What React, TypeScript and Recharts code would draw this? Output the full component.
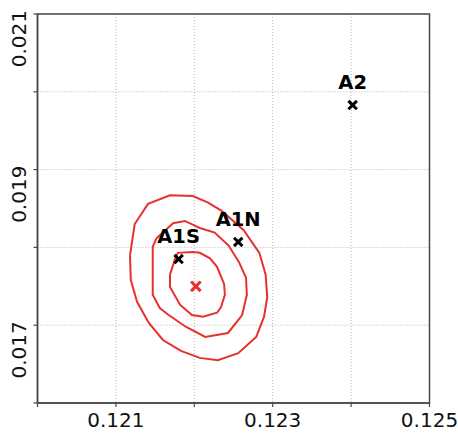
import React from 'react';
import {
  ScatterChart,
  Scatter,
  XAxis,
  YAxis,
  CartesianGrid,
  ReferenceArea,
} from 'recharts';

// Axis ranges and ticks
const xDomain: [number, number] = [0.12, 0.125];
const yDomain: [number, number] = [0.016, 0.021];
const xTicks = [0.12, 0.121, 0.122, 0.123, 0.124, 0.125];
const yTicks = [0.016, 0.017, 0.018, 0.019, 0.02, 0.021];
const xLabelled = [0.121, 0.123, 0.125];
const yLabelled = [0.017, 0.019, 0.021];

// Confidence contours (closed polylines)
const outerContour = [
  { x: 0.12118, y: 0.0179 },
  { x: 0.12119, y: 0.01758 },
  { x: 0.12127, y: 0.0173 },
  { x: 0.12142, y: 0.01703 },
  { x: 0.1216, y: 0.01681 },
  { x: 0.12183, y: 0.01667 },
  { x: 0.12207, y: 0.01658 },
  { x: 0.1223, y: 0.01655 },
  { x: 0.12256, y: 0.01664 },
  { x: 0.12279, y: 0.01685 },
  { x: 0.12289, y: 0.01711 },
  { x: 0.12293, y: 0.01736 },
  { x: 0.12291, y: 0.01765 },
  { x: 0.12283, y: 0.01793 },
  { x: 0.12263, y: 0.01822 },
  { x: 0.12235, y: 0.01847 },
  { x: 0.12217, y: 0.01858 },
  { x: 0.12198, y: 0.01866 },
  { x: 0.12169, y: 0.01867 },
  { x: 0.12141, y: 0.01856 },
  { x: 0.12124, y: 0.0183 },
  { x: 0.12118, y: 0.0179 },
];

const middleContour = [
  { x: 0.12147, y: 0.01781 },
  { x: 0.12147, y: 0.01758 },
  { x: 0.12147, y: 0.01739 },
  { x: 0.12156, y: 0.01722 },
  { x: 0.12166, y: 0.01714 },
  { x: 0.12189, y: 0.01698 },
  { x: 0.12214, y: 0.01685 },
  { x: 0.12243, y: 0.0169 },
  { x: 0.12261, y: 0.01713 },
  { x: 0.12267, y: 0.01739 },
  { x: 0.12266, y: 0.01761 },
  { x: 0.12257, y: 0.01781 },
  { x: 0.12244, y: 0.01802 },
  { x: 0.12226, y: 0.01819 },
  { x: 0.12207, y: 0.01825 },
  { x: 0.12188, y: 0.01834 },
  { x: 0.12173, y: 0.01831 },
  { x: 0.12152, y: 0.01812 },
  { x: 0.12147, y: 0.01801 },
  { x: 0.12147, y: 0.01781 },
];

const innerContour = [
  { x: 0.12169, y: 0.01765 },
  { x: 0.12169, y: 0.01749 },
  { x: 0.12182, y: 0.01726 },
  { x: 0.12197, y: 0.01713 },
  { x: 0.12211, y: 0.01711 },
  { x: 0.12229, y: 0.01716 },
  { x: 0.12234, y: 0.01723 },
  { x: 0.12239, y: 0.01739 },
  { x: 0.12238, y: 0.01753 },
  { x: 0.12229, y: 0.01775 },
  { x: 0.1222, y: 0.01786 },
  { x: 0.12207, y: 0.01793 },
  { x: 0.12198, y: 0.01794 },
  { x: 0.12179, y: 0.01793 },
  { x: 0.12175, y: 0.01784 },
  { x: 0.12169, y: 0.01765 },
];

// Best-fit point and named reference points
const bestFit = [{ x: 0.12202, y: 0.0175, name: '' }];
const namedPoints = [
  { x: 0.1218, y: 0.01785, name: 'A1S' },
  { x: 0.12256, y: 0.01807, name: 'A1N' },
  { x: 0.12402, y: 0.01983, name: 'A2' },
];

const RED = '#e8302c';
const AXIS = '#4a4a4a';
const FONT = '"DejaVu Sans", Verdana, sans-serif';

const near = (a: number, list: number[]) => list.some((v) => Math.abs(v - a) < 1e-7);

const XTick = (props: any) => {
  const { x, y, payload } = props;
  if (!near(payload.value, xLabelled)) return <g />;
  return (
    <text x={x} y={y + 18} textAnchor="middle" fontSize={20} fontFamily={FONT} fill="#111">
      {payload.value.toFixed(3)}
    </text>
  );
};

const YTick = (props: any) => {
  const { x, y, payload } = props;
  if (!near(payload.value, yLabelled)) return <g />;
  const tx = x - 5.5;
  const ty = y - 4;
  return (
    <text
      x={tx}
      y={ty}
      transform={`rotate(-90 ${tx} ${ty})`}
      textAnchor="end"
      fontSize={20}
      fontFamily={FONT}
      fill="#111"
    >
      {payload.value.toFixed(3)}
    </text>
  );
};

const Nothing = () => <g />;

const makeCross = (color: string, half: number) => (props: any) => {
  const { cx, cy, payload } = props;
  return (
    <g>
      <line x1={cx - half} y1={cy - half} x2={cx + half} y2={cy + half} stroke={color} strokeWidth={3} />
      <line x1={cx - half} y1={cy + half} x2={cx + half} y2={cy - half} stroke={color} strokeWidth={3} />
      {payload && payload.name ? (
        <text
          x={cx}
          y={cy - 16}
          textAnchor="middle"
          fontSize={19.5}
          fontWeight="bold"
          fontFamily={FONT}
          fill="#000"
        >
          {payload.name}
        </text>
      ) : null}
    </g>
  );
};

const BlackCross = makeCross('#000', 4.2);
const RedCross = makeCross(RED, 4.8);

export default function App() {
  const lineStyle = { stroke: RED, strokeWidth: 2 };
  return (
    <div style={{ position: 'absolute', left: 0, top: 0 }}>
      <ScatterChart width={458} height={433} margin={{ top: 14, right: 28.5, bottom: 0, left: 0 }}>
        <CartesianGrid stroke="#b5b5b5" strokeDasharray="1 2" strokeWidth={1} />
        <XAxis
          type="number"
          dataKey="x"
          domain={xDomain}
          ticks={xTicks}
          allowDataOverflow
          height={30}
          tickSize={4}
          axisLine={{ stroke: AXIS, strokeWidth: 1.5 }}
          tickLine={{ stroke: AXIS, strokeWidth: 1.2 }}
          tick={<XTick />}
        />
        <YAxis
          type="number"
          dataKey="y"
          domain={yDomain}
          ticks={yTicks}
          allowDataOverflow
          width={37.5}
          tickSize={4}
          axisLine={{ stroke: AXIS, strokeWidth: 1.5 }}
          tickLine={{ stroke: AXIS, strokeWidth: 1.2 }}
          tick={<YTick />}
        />
        <ReferenceArea
          x1={xDomain[0]}
          x2={xDomain[1]}
          y1={yDomain[0]}
          y2={yDomain[1]}
          fill="none"
          stroke={AXIS}
          strokeWidth={1.5}
        />
        <Scatter data={outerContour} line={lineStyle} lineJointType="linear" shape={<Nothing />} isAnimationActive={false} />
        <Scatter data={middleContour} line={lineStyle} lineJointType="linear" shape={<Nothing />} isAnimationActive={false} />
        <Scatter data={innerContour} line={lineStyle} lineJointType="linear" shape={<Nothing />} isAnimationActive={false} />
        <Scatter data={bestFit} shape={RedCross} isAnimationActive={false} />
        <Scatter data={namedPoints} shape={BlackCross} isAnimationActive={false} />
      </ScatterChart>
    </div>
  );
}
